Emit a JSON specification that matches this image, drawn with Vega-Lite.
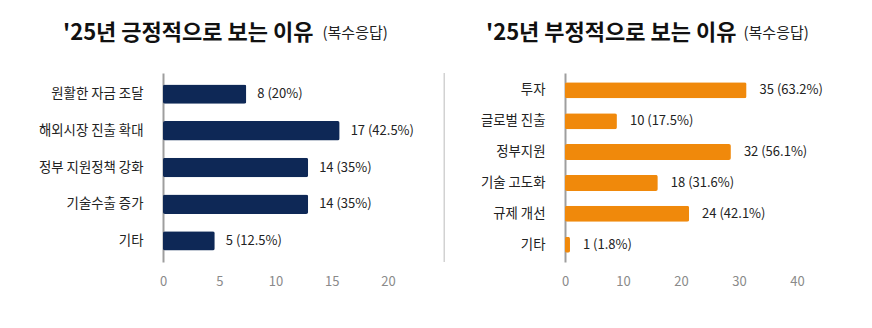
{
  "$schema": "https://vega.github.io/schema/vega-lite/v6.json",
  "padding": {"left": 38, "top": 21, "right": 20, "bottom": 20},
  "bounds": "flush",
  "spacing": 177,
  "background": "white",
  "config": {
    "font": "Noto Sans CJK KR",
    "view": {"stroke": null},
    "axisY": {"domainColor": "#9e9e9e", "domainWidth": 2, "ticks": false, "labelPadding": 20, "labelColor": "#222222", "labelFontSize": 13.4, "labelFont": "Noto Sans CJK KR", "titleAngle": 0, "titleAlign": "left", "titleBaseline": "alphabetic", "titleFontSize": 15, "titleFontWeight": "normal", "titleColor": "#222222", "titleFont": "Noto Sans CJK KR", "titleY": -36},
    "axisX": {"domain": false, "ticks": false, "grid": false, "labelFlush": false, "labelPadding": 13, "labelColor": "#8a8a8a", "labelFontSize": 13, "labelFont": "Noto Sans CJK KR", "title": null},
    "title": {"anchor": "start", "frame": "group", "fontSize": 22, "fontWeight": "bold", "color": "#111111", "font": "Noto Sans CJK KR", "offset": -19.5}
  },
  "hconcat": [
    {
      "width": 225,
      "height": 189,
      "title": {"text": "'25년 긍정적으로 보는 이유", "dx": -100},
      "layer": [
        {
          "data": {"values": [
            {"reason": "원활한 자금 조달", "bar": 7.4, "label": "8 (20%)"},
            {"reason": "해외시장 진출 확대", "bar": 15.7, "label": "17 (42.5%)"},
            {"reason": "정부 지원정책 강화", "bar": 12.9, "label": "14 (35%)"},
            {"reason": "기술수출 증가", "bar": 12.9, "label": "14 (35%)"},
            {"reason": "기타", "bar": 4.6, "label": "5 (12.5%)"}
          ]},
          "layer": [
            {
              "mark": {"type": "bar", "color": "#0e2856", "cornerRadius": 2},
              "encoding": {
                "y": {"field": "reason", "type": "nominal", "sort": null, "scale": {"paddingInner": 0.475, "paddingOuter": 0.31}, "axis": {"title": "(복수응답)", "titleX": 159}},
                "x": {"field": "bar", "type": "quantitative", "scale": {"domain": [0, 20], "nice": false}, "axis": {"values": [0, 5, 10, 15, 20]}}
              }
            },
            {
              "mark": {"type": "text", "align": "left", "baseline": "middle", "dx": 11, "fontSize": 13, "color": "#222222"},
              "encoding": {
                "y": {"field": "reason", "type": "nominal", "sort": null},
                "x": {"field": "bar", "type": "quantitative"},
                "text": {"field": "label"}
              }
            }
          ]
        },
        {
          "data": {"values": [{"divider": 25}]},
          "mark": {"type": "rule", "color": "#d2d2d2", "strokeWidth": 1.5},
          "encoding": {"x": {"field": "divider", "type": "quantitative"}}
        }
      ]
    },
    {
      "width": 232,
      "height": 189,
      "title": {"text": "'25년 부정적으로 보는 이유", "dx": -79},
      "data": {"values": [
        {"reason": "투자", "bar": 31.3, "label": "35 (63.2%)"},
        {"reason": "글로벌 진출", "bar": 8.95, "label": "10 (17.5%)"},
        {"reason": "정부지원", "bar": 28.6, "label": "32 (56.1%)"},
        {"reason": "기술 고도화", "bar": 16.0, "label": "18 (31.6%)"},
        {"reason": "규제 개선", "bar": 21.4, "label": "24 (42.1%)"},
        {"reason": "기타", "bar": 0.86, "label": "1 (1.8%)"}
      ]},
      "layer": [
        {
          "mark": {"type": "bar", "color": "#f0890b", "cornerRadius": 2},
          "encoding": {
            "y": {"field": "reason", "type": "nominal", "sort": null, "scale": {"paddingInner": 0.48, "paddingOuter": 0.3}, "axis": {"title": "(복수응답)", "titleX": 178}},
            "x": {"field": "bar", "type": "quantitative", "scale": {"domain": [0, 40], "nice": false}, "axis": {"values": [0, 10, 20, 30, 40]}}
          }
        },
        {
          "mark": {"type": "text", "align": "left", "baseline": "middle", "dx": 13, "fontSize": 13, "color": "#222222"},
          "encoding": {
            "y": {"field": "reason", "type": "nominal", "sort": null},
            "x": {"field": "bar", "type": "quantitative"},
            "text": {"field": "label"}
          }
        }
      ]
    }
  ]
}
